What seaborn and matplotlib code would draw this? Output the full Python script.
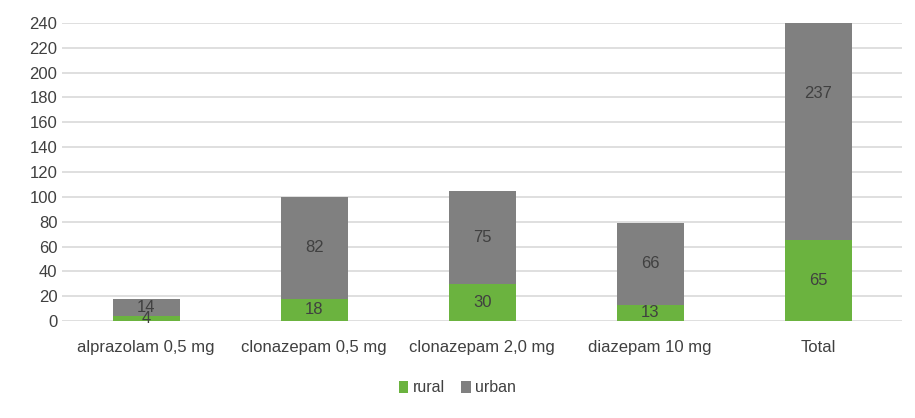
import seaborn as sns
import matplotlib.pyplot as plt
import pandas as pd

drugs = ['alprazolam 0,5 mg', 'clonazepam 0,5 mg', 'clonazepam 2,0 mg', 'diazepam 10 mg', 'Total']
rural = [4, 18, 30, 13, 65]
urban = [14, 82, 75, 66, 237]
yticks = list(range(0, 241, 20))

green = '#6BB33F'
gray = '#808080'

df = pd.DataFrame({'drug': drugs, 'rural': rural, 'urban': urban})
df['stack'] = df['rural'] + df['urban']

sns.set_style('white')
plt.rcParams['font.family'] = ['Liberation Sans Narrow', 'Liberation Sans', 'DejaVu Sans']

fig = plt.figure(figsize=(9.15, 4.18), dpi=100)
ax = fig.add_axes([0.068, 0.232, 0.918, 0.713])

# urban stacked on rural: draw full stack in gray, then rural over it
sns.barplot(data=df, x='drug', y='stack', color=gray, width=0.4, saturation=1,
            linewidth=0, ax=ax, label='urban', zorder=2)
sns.barplot(data=df, x='drug', y='rural', color=green, width=0.4, saturation=1,
            linewidth=0, ax=ax, label='rural', zorder=3)

for i, row in df.iterrows():
    ax.text(i, row['rural'] / 2, str(row['rural']), ha='center', va='center',
            fontsize=12, color='#404040', zorder=4)
    ax.text(i, row['rural'] + row['urban'] / 2, str(row['urban']), ha='center', va='center',
            fontsize=12, color='#404040', zorder=4)

ax.set_ylim(0, 240)
ax.set_xlim(-0.5, len(drugs) - 0.5)
ax.set_yticks(yticks)
ax.yaxis.grid(True, color='#D9D9D9', linewidth=1.2, zorder=0)
ax.set_axisbelow(True)
for s in ax.spines.values():
    s.set_visible(False)
ax.tick_params(axis='both', length=0, labelsize=12, colors='#404040')
ax.tick_params(axis='x', pad=14)
ax.set_xlabel('')
ax.set_ylabel('')

handles, labels = ax.get_legend_handles_labels()
order = [labels.index('rural'), labels.index('urban')]
ax.legend([handles[i] for i in order], [labels[i] for i in order],
          loc='lower center', bbox_to_anchor=(0.5, 0.02), bbox_transform=fig.transFigure,
          ncol=2, frameon=False, fontsize=11.5, handlelength=0.6, handleheight=0.8,
          handletextpad=0.3, columnspacing=1.0, labelcolor='#404040')

fig.savefig('out.png', dpi=100)
